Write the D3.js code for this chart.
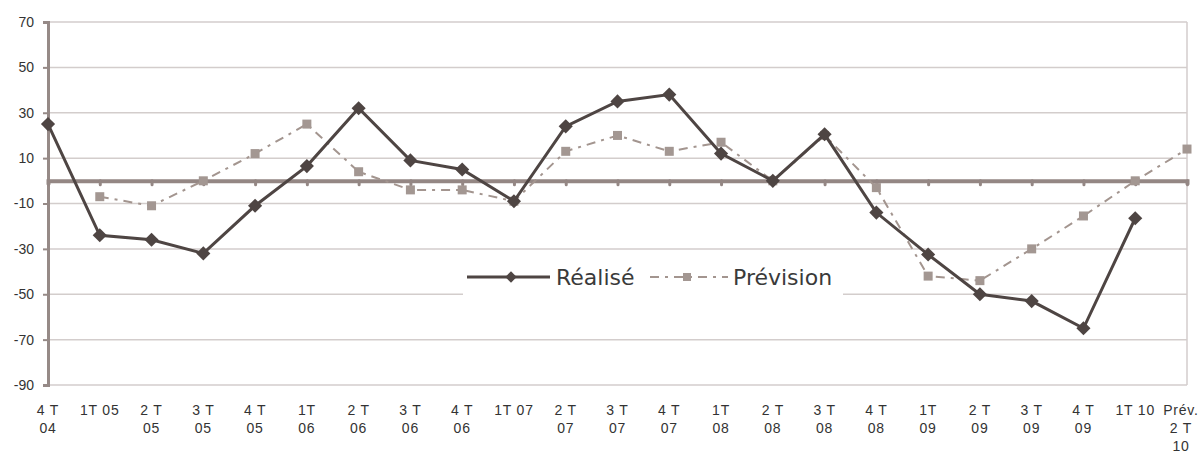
<!DOCTYPE html>
<html>
<head>
<meta charset="utf-8">
<script src="https://cdn.jsdelivr.net/npm/d3@7"></script>
<style>
  body { margin: 0; background: #fff; }
  svg { display: block; }
</style>
</head>
<body>
<div id="chart"></div>
<script>
// categories (quarters), "\n" = line break in the axis label
const categories = ["4 T\n04", "1T 05", "2 T\n05", "3 T\n05", "4 T\n05", "1T\n06", "2 T\n06", "3 T\n06",
  "4 T\n06", "1T 07", "2 T\n07", "3 T\n07", "4 T\n07", "1T\n08", "2 T\n08", "3 T\n08", "4 T\n08",
  "1T\n09", "2 T\n09", "3 T\n09", "4 T\n09", "1T 10", "Prév.\n2 T\n10"];

const realise = [25, -24, -26, -32, -11, 6.5, 32, 9, 5, -9, 24, 35, 38, 12, 0, 20.5, -14, -32.5, -50, -53, -65, -16.5, null];
const prevision = [null, -7, -11, 0, 12, 25, 4, -4, -4, -9, 13, 20, 13, 17, 0, 20, -3, -42, -44, -30, -15.5, 0, 14];

const yTicks = [-90, -70, -50, -30, -10, 10, 30, 50, 70];

function drawChart() {
  const container = d3.select("#chart");
  container.selectAll("*").remove();

  const width = 1203;
  const height = 455;
  const margin = { top: 22, right: 16, bottom: 70, left: 48 };

  const svg = container.append("svg")
    .attr("width", width)
    .attr("height", height);

  const x = d3.scalePoint()
    .domain(d3.range(categories.length))
    .range([margin.left, width - margin.right]);

  const y = d3.scaleLinear()
    .domain([-90, 70])
    .range([height - margin.bottom, margin.top]);

  // gridlines
  svg.append("g")
    .selectAll("line")
    .data(yTicks)
    .join("line")
    .attr("x1", margin.left)
    .attr("x2", width - margin.right)
    .attr("y1", d => y(d))
    .attr("y2", d => y(d))
    .attr("stroke", "#d3cdcc")
    .attr("stroke-width", 1.5);

  // right border
  svg.append("line")
    .attr("x1", width - margin.right).attr("x2", width - margin.right)
    .attr("y1", y(70)).attr("y2", y(-90))
    .attr("stroke", "#d3cdcc")
    .attr("stroke-width", 1.5);

  // y axis
  const yAxis = svg.append("g")
    .attr("transform", `translate(${margin.left},0)`)
    .call(d3.axisLeft(y).tickValues(yTicks).tickSize(5).tickPadding(9).tickFormat(d => String(d)));
  yAxis.select(".domain").attr("stroke", "#968a87").attr("stroke-width", 3);
  yAxis.selectAll(".tick line").attr("stroke", "#968a87").attr("stroke-width", 2);
  yAxis.selectAll(".tick text")
    .attr("fill", "#333")
    .style("font-family", "Liberation Sans, Arial, sans-serif")
    .style("font-size", "14px");

  // zero line with category ticks
  const xAxis = svg.append("g")
    .attr("transform", `translate(0,${y(0)})`)
    .call(d3.axisBottom(x).tickSize(4).tickFormat(""));
  xAxis.select(".domain").attr("stroke", "#948784").attr("stroke-width", 4);
  xAxis.selectAll(".tick line")
    .attr("stroke", "#948784")
    .attr("stroke-width", 3)
    .attr("stroke-linecap", "round");

  // x labels at bottom
  const labelX = i => Math.min(x(i), width - 22);
  const labels = svg.append("g")
    .selectAll("text")
    .data(categories)
    .join("text")
    .attr("y", 415)
    .attr("text-anchor", "middle")
    .attr("fill", "#333")
    .style("font-family", "Liberation Sans, Arial, sans-serif")
    .style("font-size", "14px")
    .style("letter-spacing", "0.8px");
  labels.each(function(d, i) {
    const t = d3.select(this);
    d.split("\n").forEach((line, k) => {
      t.append("tspan")
        .attr("x", labelX(i))
        .attr("dy", k === 0 ? 0 : 18)
        .text(line);
    });
  });

  const line = d3.line()
    .defined(d => d != null)
    .x((d, i) => x(i))
    .y(d => y(d));

  // Prévision
  svg.append("path")
    .datum(prevision)
    .attr("fill", "none")
    .attr("stroke", "#a3958f")
    .attr("stroke-width", 2)
    .attr("stroke-dasharray", "9,6,3,6")
    .attr("d", line);

  svg.append("g")
    .selectAll("rect")
    .data(prevision.map((v, i) => ({ v, i })).filter(d => d.v != null))
    .join("rect")
    .attr("x", d => x(d.i) - 4.5)
    .attr("y", d => y(d.v) - 4.5)
    .attr("width", 9)
    .attr("height", 9)
    .attr("fill", "#a39792");

  // Réalisé
  svg.append("path")
    .datum(realise)
    .attr("fill", "none")
    .attr("stroke", "#4e4543")
    .attr("stroke-width", 3)
    .attr("d", line);

  const diamond = d3.symbol().type(d3.symbolSquare).size(100);
  svg.append("g")
    .selectAll("path")
    .data(realise.map((v, i) => ({ v, i })).filter(d => d.v != null))
    .join("path")
    .attr("transform", d => `translate(${x(d.i)},${y(d.v)}) rotate(45)`)
    .attr("d", diamond)
    .attr("fill", "#4e4543");

  // legend
  const lg = svg.append("g");
  lg.append("rect")
    .attr("x", 463).attr("y", 256)
    .attr("width", 380).attr("height", 42)
    .attr("fill", "#fff");
  lg.append("line")
    .attr("x1", 467).attr("x2", 550).attr("y1", 277).attr("y2", 277)
    .attr("stroke", "#4e4543").attr("stroke-width", 3);
  lg.append("path")
    .attr("transform", "translate(511,277) rotate(45)")
    .attr("d", d3.symbol().type(d3.symbolSquare).size(64))
    .attr("fill", "#4e4543");
  lg.append("text")
    .attr("x", 556).attr("y", 285)
    .attr("fill", "#3a3a3a")
    .style("font-family", "DejaVu Sans, Verdana, sans-serif")
    .style("font-size", "22px")
    .text("Réalisé");
  lg.append("line")
    .attr("x1", 650).attr("x2", 728).attr("y1", 277).attr("y2", 277)
    .attr("stroke", "#a3958f").attr("stroke-width", 2)
    .attr("stroke-dasharray", "9,6,3,6");
  lg.append("rect")
    .attr("x", 683).attr("y", 273)
    .attr("width", 8).attr("height", 8)
    .attr("fill", "#a39792");
  lg.append("text")
    .attr("x", 733).attr("y", 285)
    .attr("fill", "#3a3a3a")
    .style("font-family", "DejaVu Sans, Verdana, sans-serif")
    .style("font-size", "22px")
    .text("Prévision");
}

drawChart();
</script>
</body>
</html>
